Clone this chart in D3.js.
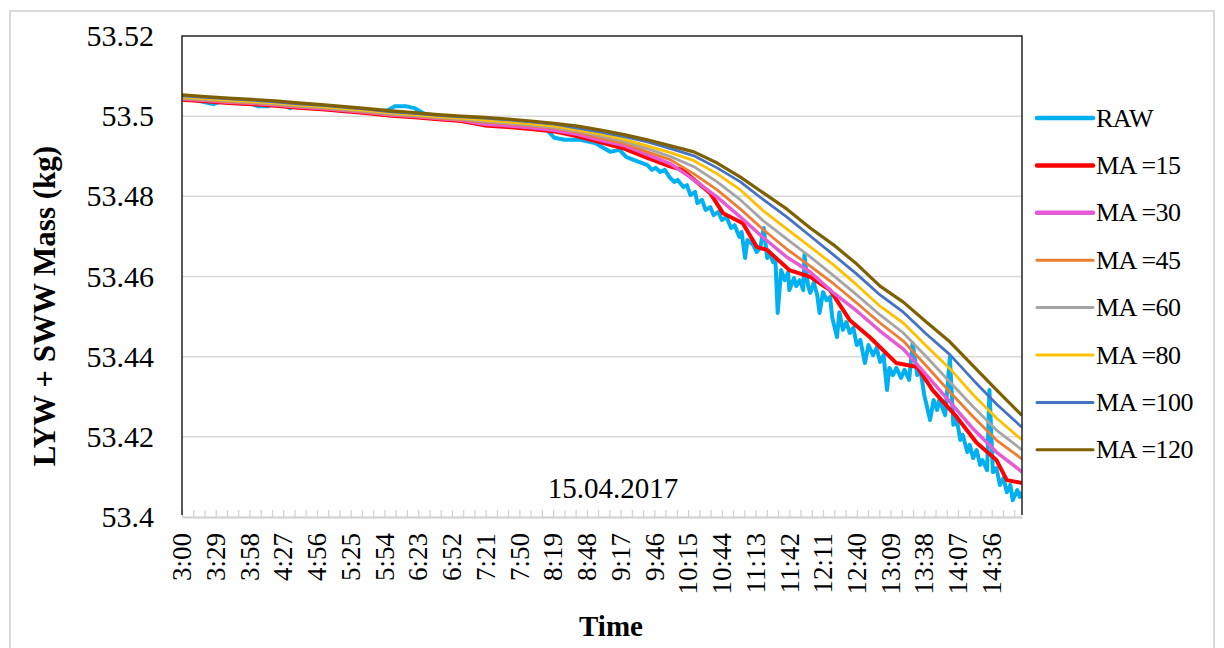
<!DOCTYPE html>
<html>
<head>
<meta charset="utf-8">
<script src="https://cdn.jsdelivr.net/npm/d3@7"></script>
<style>
  body { margin: 0; background: #fff; }
  svg text { font-family: 'Liberation Serif', 'Times New Roman', serif; fill: #000; }
</style>
</head>
<body>
<svg id="chart" width="1224" height="648"></svg>
<script>
// time stamps of the smoothed series (every 20 min)
const maTimes = ['3:00', '3:20', '3:40', '4:00', '4:20', '4:40', '5:00', '5:20', '5:40', '6:00',
  '6:20', '6:40', '7:00', '7:20', '7:40', '8:00', '8:20', '8:40', '9:00', '9:20',
  '9:40', '10:00', '10:20', '10:40', '11:00', '11:20', '11:40', '12:00', '12:20', '12:40',
  '13:00', '13:20', '13:40', '14:00', '14:20', '14:40', '15:00', '15:02'];

// MA=15 is bumpy, so it gets its own denser stamps after 10:00
const ma15Times = ['3:00', '3:20', '3:40', '4:00', '4:20', '4:40', '5:00', '5:20', '5:40', '6:00',
  '6:20', '6:40', '7:00', '7:20', '7:40', '8:00', '8:20', '8:40', '9:00', '9:20',
  '9:40', '10:00', '10:10', '10:34', '10:45', '11:02', '11:14', '11:23', '11:42', '12:00',
  '12:17', '12:34', '12:51', '13:14', '13:32', '13:45', '14:06', '14:23', '14:40', '14:49',
  '15:02'];

const rawTimes = ['3:00', '3:11', '3:27', '3:37', '3:54', '4:05', '4:14', '4:24', '4:33', '4:41',
  '4:54', '5:07', '5:20', '5:33', '5:46', '5:57', '6:03', '6:12', '6:20', '6:29',
  '6:42', '6:55', '7:07', '7:14', '7:25', '7:37', '7:50', '8:03', '8:14', '8:20',
  '8:29', '8:42', '8:55', '9:08', '9:16', '9:22', '9:40', '9:44', '9:47', '9:51',
  '9:55', '9:59', '10:03', '10:06', '10:11', '10:14', '10:17', '10:21', '10:23', '10:27',
  '10:30', '10:34', '10:37', '10:41', '10:44', '10:48', '10:52', '10:55', '10:59', '11:01',
  '11:04', '11:06', '11:11', '11:14', '11:17', '11:20', '11:23', '11:25', '11:28', '11:30',
  '11:32', '11:35', '11:38', '11:41', '11:42', '11:46', '11:48', '11:51', '11:54', '11:55',
  '11:58', '12:00', '12:03', '12:06', '12:08', '12:11', '12:14', '12:17', '12:19', '12:23',
  '12:25', '12:28', '12:31', '12:34', '12:37', '12:40', '12:43', '12:47', '12:50', '12:54',
  '12:57', '13:00', '13:03', '13:06', '13:08', '13:11', '13:14', '13:18', '13:21', '13:25',
  '13:28', '13:32', '13:35', '13:38', '13:43', '13:46', '13:49', '13:51', '13:56', '14:00',
  '14:03', '14:06', '14:09', '14:11', '14:15', '14:17', '14:20', '14:23', '14:26', '14:28',
  '14:32', '14:34', '14:37', '14:40', '14:43', '14:46', '14:49', '14:52', '14:54', '14:58',
  '15:00', '15:02'];

const rawMass = [53.5045, 53.5040, 53.5030, 53.5040, 53.5038, 53.5025, 53.5025, 53.5033, 53.5020, 53.5030,
  53.5025, 53.5020, 53.5018, 53.5010, 53.5010, 53.5015, 53.5025, 53.5025, 53.5020, 53.5005,
  53.5000, 53.4998, 53.4990, 53.4983, 53.4990, 53.4985, 53.4980, 53.4973, 53.4965, 53.4946,
  53.4941, 53.4941, 53.4933, 53.4911, 53.4916, 53.4898, 53.4878, 53.4866, 53.4871, 53.4861,
  53.4866, 53.4848, 53.4836, 53.4841, 53.4823, 53.4828, 53.4803, 53.4811, 53.4783, 53.4791,
  53.4766, 53.4773, 53.4753, 53.4761, 53.4741, 53.4748, 53.4721, 53.4728, 53.4699, 53.4711,
  53.4646, 53.4691, 53.4679, 53.4661, 53.4671, 53.4721, 53.4646, 53.4661, 53.4636, 53.4646,
  53.4509, 53.4616, 53.4591, 53.4611, 53.4566, 53.4596, 53.4576, 53.4591, 53.4566, 53.4654,
  53.4579, 53.4559, 53.4584, 53.4554, 53.4509, 53.4561, 53.4541, 53.4549, 53.4496, 53.4449,
  53.4511, 53.4467, 53.4486, 53.4459, 53.4472, 53.4429, 53.4442, 53.4384, 53.4429, 53.4404,
  53.4422, 53.4387, 53.4404, 53.4317, 53.4372, 53.4354, 53.4372, 53.4347, 53.4367, 53.4342,
  53.4434, 53.4354, 53.4362, 53.4304, 53.4242, 53.4292, 53.4267, 53.4292, 53.4254, 53.4399,
  53.4230, 53.4242, 53.4192, 53.4205, 53.4162, 53.4180, 53.4147, 53.4167, 53.4130, 53.4142,
  53.4117, 53.4317, 53.4112, 53.4122, 53.4080, 53.4097, 53.4062, 53.4080, 53.4042, 53.4067,
  53.4050, 53.4062];

const ma15 = [53.5041, 53.5037, 53.5033, 53.5030, 53.5026, 53.5021, 53.5017, 53.5012, 53.5007, 53.5001,
  53.4997, 53.4992, 53.4988, 53.4977, 53.4973, 53.4968, 53.4962, 53.4950, 53.4935, 53.4919,
  53.4896, 53.4874, 53.4866, 53.4808, 53.4758, 53.4733, 53.4674, 53.4666, 53.4616, 53.4599,
  53.4566, 53.4491, 53.4449, 53.4384, 53.4374, 53.4317, 53.4249, 53.4185, 53.4142, 53.4092,
  53.4085];

const ma30 = [53.5043, 53.5039, 53.5035, 53.5032, 53.5028, 53.5023, 53.5019, 53.5014, 53.5009, 53.5003,
  53.4999, 53.4994, 53.4990, 53.4980, 53.4976, 53.4971, 53.4965, 53.4955, 53.4940, 53.4927,
  53.4904, 53.4881, 53.4841, 53.4798, 53.4748, 53.4696, 53.4648, 53.4611, 53.4559, 53.4514,
  53.4464, 53.4419, 53.4354, 53.4287, 53.4220, 53.4162, 53.4117, 53.4112];

const ma45 = [53.5044, 53.5040, 53.5036, 53.5033, 53.5029, 53.5024, 53.5020, 53.5015, 53.5010, 53.5004,
  53.5000, 53.4995, 53.4991, 53.4985, 53.4981, 53.4976, 53.4970, 53.4960, 53.4945, 53.4932,
  53.4911, 53.4891, 53.4856, 53.4816, 53.4768, 53.4716, 53.4668, 53.4626, 53.4582, 53.4534,
  53.4484, 53.4439, 53.4376, 53.4312, 53.4250, 53.4192, 53.4149, 53.4144];

const ma60 = [53.5046, 53.5042, 53.5038, 53.5035, 53.5031, 53.5026, 53.5022, 53.5017, 53.5012, 53.5006,
  53.5002, 53.4997, 53.4993, 53.4987, 53.4983, 53.4978, 53.4972, 53.4963, 53.4950, 53.4937,
  53.4919, 53.4899, 53.4874, 53.4836, 53.4791, 53.4738, 53.4693, 53.4649, 53.4602, 53.4554,
  53.4504, 53.4459, 53.4399, 53.4337, 53.4275, 53.4217, 53.4172, 53.4167];

const ma80 = [53.5048, 53.5044, 53.5040, 53.5037, 53.5033, 53.5028, 53.5024, 53.5019, 53.5014, 53.5008,
  53.5004, 53.4999, 53.4995, 53.4990, 53.4986, 53.4981, 53.4975, 53.4965, 53.4955, 53.4942,
  53.4926, 53.4909, 53.4889, 53.4856, 53.4816, 53.4763, 53.4718, 53.4674, 53.4629, 53.4579,
  53.4526, 53.4484, 53.4426, 53.4370, 53.4305, 53.4247, 53.4197, 53.4192];

const ma100 = [53.5051, 53.5047, 53.5043, 53.5040, 53.5036, 53.5031, 53.5027, 53.5022, 53.5017, 53.5011,
  53.5007, 53.5002, 53.4998, 53.4995, 53.4991, 53.4986, 53.4980, 53.4970, 53.4960, 53.4949,
  53.4936, 53.4919, 53.4901, 53.4871, 53.4836, 53.4791, 53.4748, 53.4701, 53.4654, 53.4606,
  53.4554, 53.4511, 53.4456, 53.4405, 53.4342, 53.4282, 53.4229, 53.4224];

const ma120 = [53.5053, 53.5049, 53.5045, 53.5042, 53.5038, 53.5033, 53.5029, 53.5024, 53.5019, 53.5013,
  53.5009, 53.5004, 53.5000, 53.4997, 53.4993, 53.4988, 53.4982, 53.4975, 53.4965, 53.4954,
  53.4941, 53.4926, 53.4911, 53.4883, 53.4848, 53.4808, 53.4768, 53.4721, 53.4679, 53.4631,
  53.4576, 53.4536, 53.4486, 53.4437, 53.4377, 53.4317, 53.4259, 53.4254];

const xTickLabels = ['3:00', '3:29', '3:58', '4:27', '4:56', '5:25', '5:54', '6:23', '6:52', '7:21',
  '7:50', '8:19', '8:48', '9:17', '9:46', '10:15', '10:44', '11:13', '11:42', '12:11',
  '12:40', '13:09', '13:38', '14:07', '14:36'];
const yTickLabels = ['53.4', '53.42', '53.44', '53.46', '53.48', '53.5', '53.52'];

const seriesNames = ['RAW', 'MA =15', 'MA =30', 'MA =45', 'MA =60', 'MA =80', 'MA =100', 'MA =120'];

const toMin = s => {
  const [h, m] = s.split(':').map(Number);
  return h * 60 + m;
};

const series = [
  { name: seriesNames[0], times: rawTimes, values: rawMass, color: '#00b0f0', width: 4, legendWidth: 4.5 },
  { name: seriesNames[1], times: ma15Times, values: ma15, color: '#ff0000', width: 4, legendWidth: 4.5 },
  { name: seriesNames[2], times: maTimes, values: ma30, color: '#e65ad6', width: 3.5, legendWidth: 4.5 },
  { name: seriesNames[3], times: maTimes, values: ma45, color: '#ed7d31', width: 2.8, legendWidth: 3 },
  { name: seriesNames[4], times: maTimes, values: ma60, color: '#a5a5a5', width: 2.8, legendWidth: 3 },
  { name: seriesNames[5], times: maTimes, values: ma80, color: '#ffc000', width: 2.8, legendWidth: 3 },
  { name: seriesNames[6], times: maTimes, values: ma100, color: '#4472c4', width: 2.8, legendWidth: 3 },
  { name: seriesNames[7], times: maTimes, values: ma120, color: '#7f6000', width: 3.2, legendWidth: 3 },
];

const plot = { left: 182, right: 1022, top: 36, bottom: 517 };

const svg = d3.select('#chart');

// outer chart frame
svg.append('rect')
  .attr('x', 10).attr('y', 11)
  .attr('width', 1204).attr('height', 660)
  .attr('fill', '#fff')
  .attr('stroke', '#d9d9d9')
  .attr('stroke-width', 2);

const x = d3.scaleLinear()
  .domain([toMin('3:00'), toMin('15:02')])
  .range([plot.left, plot.right]);

const y = d3.scaleLinear()
  .domain([53.4, 53.52])
  .range([plot.bottom, plot.top]);

// horizontal gridlines
svg.append('g')
  .selectAll('line')
  .data(yTickLabels.map(Number).filter(v => v > 53.4 && v < 53.52))
  .join('line')
  .attr('x1', plot.left).attr('x2', plot.right)
  .attr('y1', d => y(d)).attr('y2', d => y(d))
  .attr('stroke', '#d9d9d9')
  .attr('stroke-width', 1.5);

// y axis labels
const yAxis = d3.axisLeft(y)
  .tickValues(yTickLabels.map(Number))
  .tickFormat((d, i) => yTickLabels[i])
  .tickSize(0)
  .tickPadding(28);

svg.append('g')
  .attr('transform', `translate(${plot.left},0)`)
  .call(yAxis)
  .call(g => g.select('.domain').remove())
  .selectAll('text')
  .attr('font-family', "'Liberation Serif', 'Times New Roman', serif")
  .attr('font-size', 30)
  .attr('fill', '#000');

// x axis: minor ticks, baseline
const minorTicks = d3.range(toMin('3:00'), toMin('15:02') + 0.1, 29 / 3);
const xAxis = d3.axisBottom(x)
  .tickValues(minorTicks)
  .tickFormat('')
  .tickSizeInner(-7)
  .tickSizeOuter(0);

svg.append('g')
  .attr('transform', `translate(0,${plot.bottom})`)
  .call(xAxis)
  .call(g => g.select('.domain').attr('stroke', '#d0d0d0').attr('stroke-width', 2))
  .call(g => g.selectAll('.tick line').attr('stroke', '#d0d0d0').attr('stroke-width', 1.2));

// rotated time labels
svg.append('g')
  .selectAll('text')
  .data(xTickLabels)
  .join('text')
  .attr('transform', d => `translate(${x(toMin(d))},533) rotate(-90)`)
  .attr('text-anchor', 'end')
  .attr('dy', '0.34em')
  .attr('font-size', 27)
  .text(d => d);

// lines
svg.append('clipPath').attr('id', 'plot-clip')
  .append('rect')
  .attr('x', plot.left).attr('y', plot.top)
  .attr('width', plot.right - plot.left).attr('height', plot.bottom - plot.top);

const line = d3.line()
  .x(d => x(d.t))
  .y(d => y(d.v));

svg.append('g')
  .attr('clip-path', 'url(#plot-clip)')
  .selectAll('path')
  .data(series)
  .join('path')
  .attr('d', s => line(s.values.map((v, i) => ({ t: toMin(s.times[i]), v }))))
  .attr('fill', 'none')
  .attr('stroke', s => s.color)
  .attr('stroke-width', s => s.width)
  .attr('stroke-linejoin', 'round');

// plot border (top, left, right)
svg.append('path')
  .attr('d', `M${plot.left},${plot.bottom - 2}V${plot.top}H${plot.right}V${plot.bottom - 2}`)
  .attr('fill', 'none')
  .attr('stroke', '#222')
  .attr('stroke-width', 1.5);

// date annotation
svg.append('text')
  .attr('x', 613).attr('y', 498)
  .attr('text-anchor', 'middle')
  .attr('font-size', 29)
  .text('15.04.2017');

// axis titles
svg.append('text')
  .attr('transform', 'translate(55,306) rotate(-90)')
  .attr('text-anchor', 'middle')
  .attr('font-size', 31)
  .attr('font-weight', 'bold')
  .text('LYW + SWW Mass (kg)');

svg.append('text')
  .attr('x', 611).attr('y', 636)
  .attr('text-anchor', 'middle')
  .attr('font-size', 29)
  .attr('font-weight', 'bold')
  .text('Time');

// legend
const legend = svg.append('g')
  .selectAll('g')
  .data(series)
  .join('g')
  .attr('transform', (d, i) => `translate(1037,${118 + i * 47.4})`);

legend.append('line')
  .attr('x1', 0).attr('x2', 56)
  .attr('stroke', d => d.color)
  .attr('stroke-width', d => d.legendWidth)
  .attr('stroke-linecap', 'round');

legend.append('text')
  .attr('x', 59)
  .attr('dy', '0.33em')
  .attr('font-size', 26)
  .attr('letter-spacing', -0.5)
  .text(d => d.name);
</script>
</body>
</html>
